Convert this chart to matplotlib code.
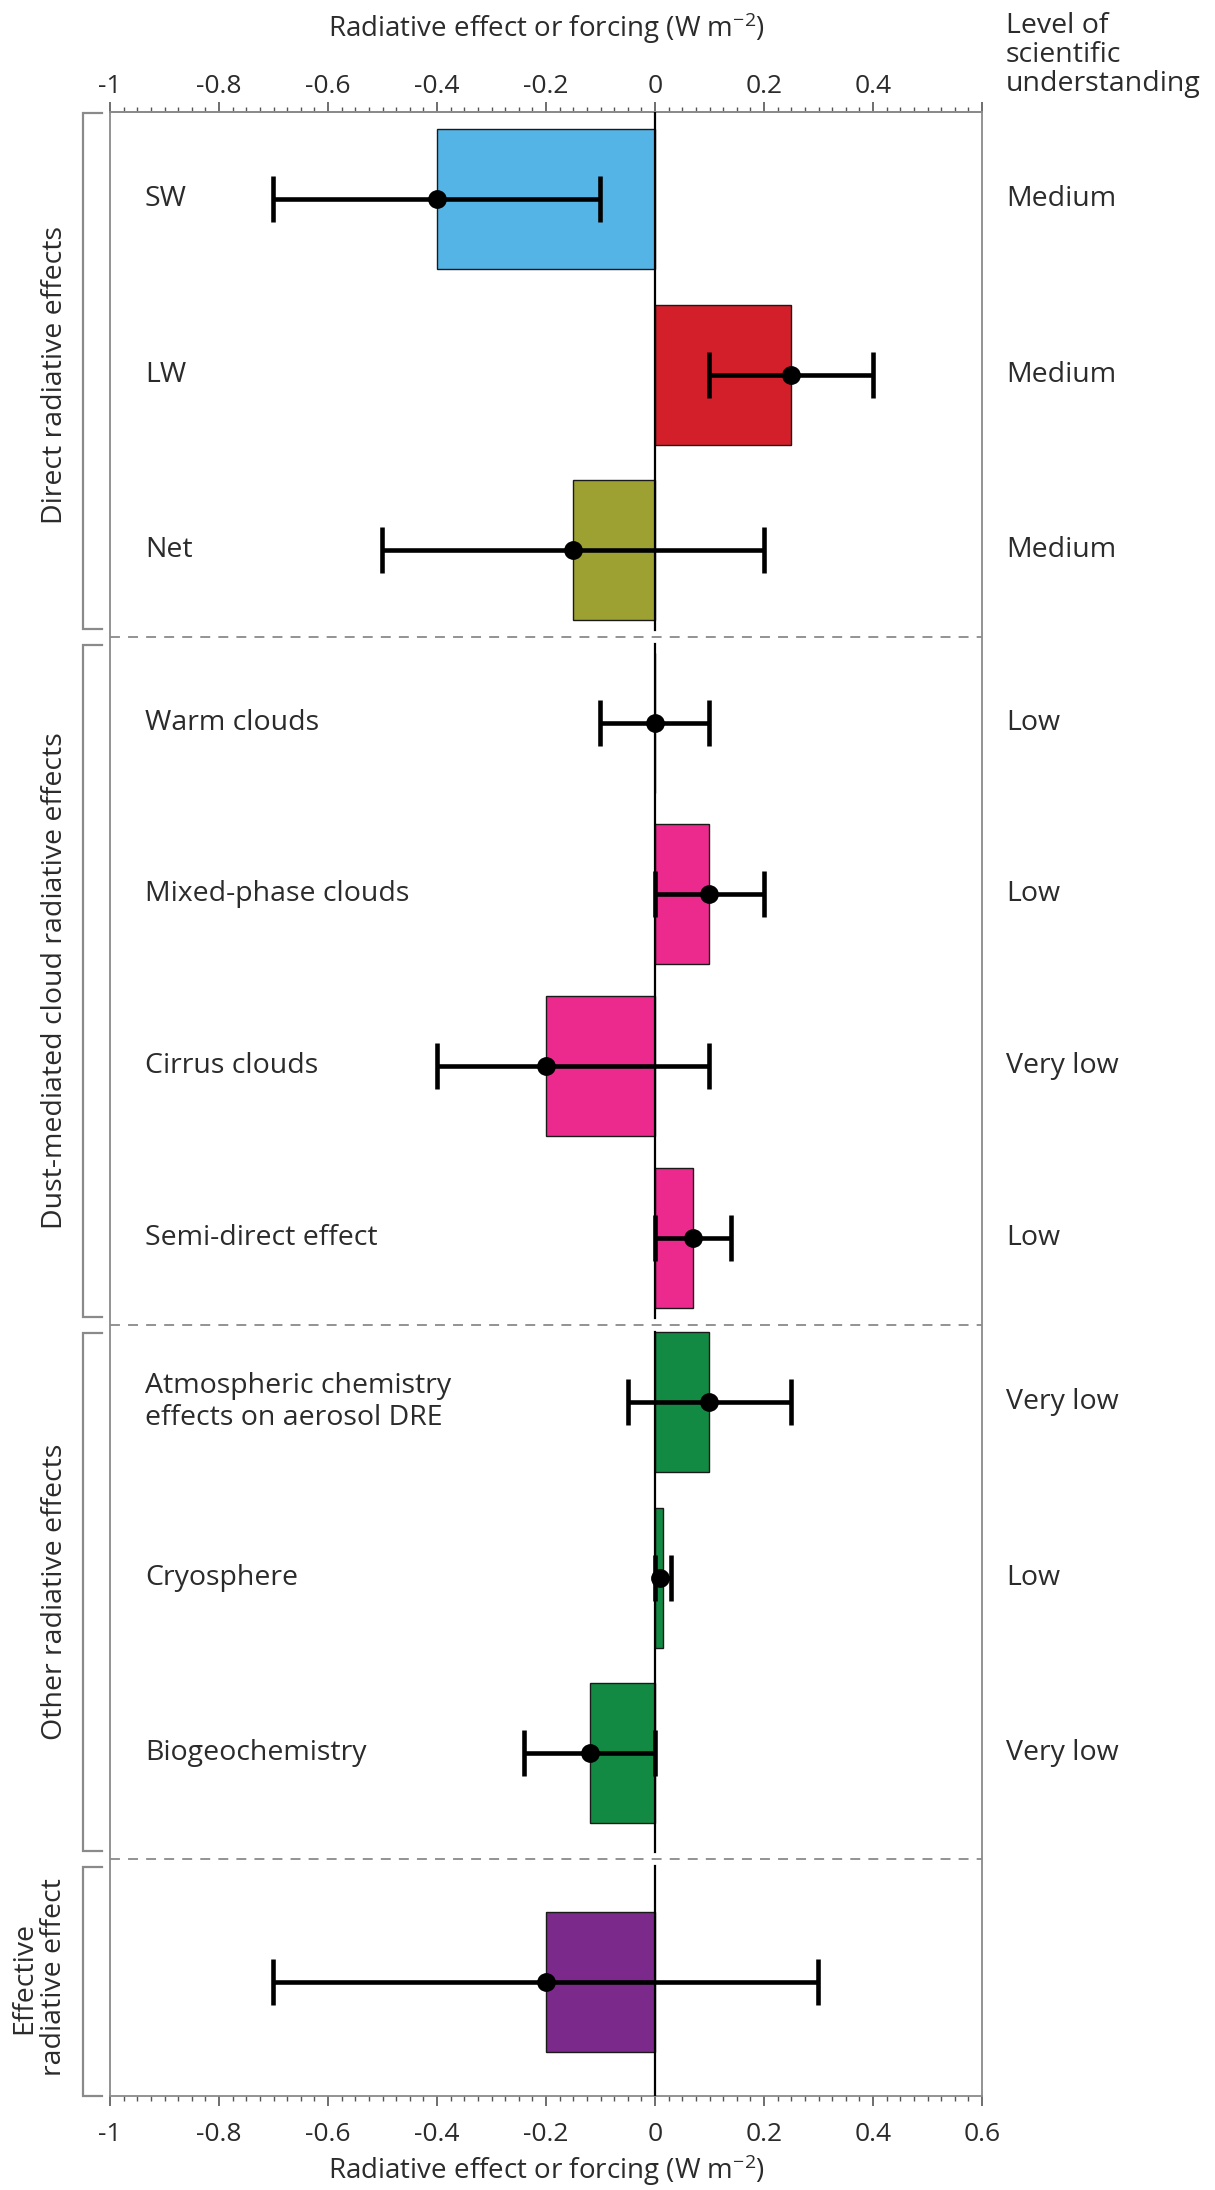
import numpy as np
import matplotlib
matplotlib.use("Agg")
import matplotlib.pyplot as plt
import matplotlib.transforms as mtransforms

plt.rcParams['font.family'] = ['Open Sans', 'DejaVu Sans']
plt.rcParams['mathtext.fontset'] = 'custom'
plt.rcParams['mathtext.rm'] = 'Open Sans'
plt.rcParams['mathtext.it'] = 'Open Sans:italic'
plt.rcParams['mathtext.bf'] = 'Open Sans:bold'

# ---------------- data ----------------
categories = ['SW', 'LW', 'Net',
              'Warm clouds', 'Mixed-phase clouds', 'Cirrus clouds', 'Semi-direct effect',
              'Atmospheric chemistry\neffects on aerosol DRE', 'Cryosphere', 'Biogeochemistry',
              '']
bar_values = [-0.40, 0.25, -0.15, 0.0, 0.10, -0.20, 0.07, 0.10, 0.015, -0.12, -0.20]
central = [-0.40, 0.25, -0.15, 0.0, 0.10, -0.20, 0.07, 0.10, 0.01, -0.12, -0.20]
lower = [-0.70, 0.10, -0.50, -0.10, 0.0, -0.40, 0.0, -0.05, 0.0, -0.24, -0.70]
upper = [-0.10, 0.40, 0.20, 0.10, 0.20, 0.10, 0.14, 0.25, 0.03, 0.0, 0.30]
losu = ['Medium', 'Medium', 'Medium', 'Low', 'Low', 'Very low', 'Low',
        'Very low', 'Low', 'Very low', '']
bar_colors = ['#55B4E6', '#D21F2A', '#9DA131',
              '#EC2A8E', '#EC2A8E', '#EC2A8E', '#EC2A8E',
              '#138A43', '#138A43', '#138A43', '#7B2A8B']
groups = ['Direct radiative effects', 'Dust-mediated cloud radiative effects',
          'Other radiative effects', 'Effective\nradiative effect']
major_ticks = [-1, -0.8, -0.6, -0.4, -0.2, 0, 0.2, 0.4, 0.6]
bottom_labels = ['-1', '-0.8', '-0.6', '-0.4', '-0.2', '0', '0.2', '0.4', '0.6']
top_labels = ['-1', '-0.8', '-0.6', '-0.4', '-0.2', '0', '0.2', '0.4', '']

# ---------------- layout ----------------
row_pos = [0.497, 1.503, 2.503, 3.49, 4.469, 5.451, 6.434, 7.371, 8.377, 9.377, 10.686]
group_bounds = [(0.0, 3.0), (3.0, 6.931), (6.931, 9.983), (9.983, 11.337)]
y_max = 11.337
bar_h = 0.80

W, H = 1215, 2190
fig = plt.figure(figsize=(W / 100, H / 100), dpi=100)
ax = fig.add_axes([110 / W, 1 - 2096 / H, 872 / W, 1984 / H])

txt = '#2b2b2b'
grey = '#8a8a8a'

ax.barh(row_pos, bar_values, height=bar_h, color=bar_colors,
        edgecolor='#1a1a1a', linewidth=1.0, zorder=2)

xerr = [np.array(central) - np.array(lower), np.array(upper) - np.array(central)]
ax.errorbar(central, row_pos, xerr=xerr, fmt='o', color='black', ms=12.5,
            elinewidth=3.3, capsize=16.5, capthick=3.3, zorder=4)

# zero line per group
gap = 0.04
for i, (a, b) in enumerate(group_bounds):
    ya = a + (gap if i > 0 else 0)
    yb = b - (gap if i < len(group_bounds) - 1 else 0)
    ax.plot([0, 0], [ya, yb], color='black', lw=1.6, zorder=3)

# separators
for (a, b) in group_bounds[1:]:
    ax.axhline(a, color=grey, lw=1.3, linestyle=(0, (5.5, 4.5)), zorder=1)

ax.set_xlim(-1, 0.6)
ax.set_ylim(y_max, 0)
ax.set_yticks([])

for s in ax.spines.values():
    s.set_color(grey)
    s.set_linewidth(1.3)

ax.set_xticks(major_ticks)
ax.set_xticklabels(bottom_labels)
ax.set_xticks(np.arange(-1, 0.6001, 0.025), minor=True)
ax.tick_params(axis='x', which='major', direction='out', length=7, width=1.2,
               color='#555555', labelsize=19, labelcolor=txt, pad=12)
ax.tick_params(axis='x', which='minor', direction='out', length=3.5, width=1.0,
               color='#555555')

sec = ax.secondary_xaxis('top')
sec.set_xticks(major_ticks)
sec.set_xticklabels(top_labels)
sec.set_xticks(np.arange(-1, 0.6001, 0.025), minor=True)
sec.tick_params(axis='x', which='major', direction='out', length=7, width=1.2,
                color='#555555', labelsize=19, labelcolor=txt, pad=2)
sec.tick_params(axis='x', which='minor', direction='out', length=3.5, width=1.0,
                color='#555555')
sec.spines['top'].set_color(grey)
sec.spines['top'].set_linewidth(1.3)

# axis titles
xcen = (110 + 982) / 2 / W
fig.text(xcen, 1 - 28 / H, r'Radiative effect or forcing (W m$^{-2}$)', ha='center',
         va='center', fontsize=20, color=txt)
fig.text(xcen, 1 - 2170 / H, r'Radiative effect or forcing (W m$^{-2}$)', ha='center',
         va='center', fontsize=20, color=txt)
fig.text(1006 / W, 1 - 12 / H, 'Level of\nscientific\nunderstanding', ha='left', va='top',
         fontsize=20.5, color=txt, linespacing=1.05)

# row labels
trans = mtransforms.blended_transform_factory(ax.transAxes, ax.transData)
for y, lab, lv in zip(row_pos, categories, losu):
    ax.text(0.040, y, lab, transform=trans, ha='left', va='center',
            fontsize=20.5, color=txt, linespacing=1.2)
    ax.text(1.0275, y, lv, transform=trans, ha='left', va='center',
            fontsize=20.5, color=txt, clip_on=False)

# group brackets
bx, bx2 = -0.031, -0.0092
for i, ((a, b), g) in enumerate(zip(group_bounds, groups)):
    ya = a + (0.045 if i > 0 else 0.005)
    yb = b - (0.045 if i < len(group_bounds) - 1 else 0.0)
    ax.plot([bx2, bx, bx, bx2], [ya, ya, yb, yb], transform=trans, color=grey,
            lw=1.6, clip_on=False, solid_joinstyle='miter')
    gx = -0.081 if '\n' in g else -0.063
    ax.text(gx, (a + b) / 2, g, transform=trans, rotation=90, ha='center',
            va='center', fontsize=20.5, color=txt, linespacing=1.1, clip_on=False)

fig.savefig('out.png', dpi=100, facecolor='white')
